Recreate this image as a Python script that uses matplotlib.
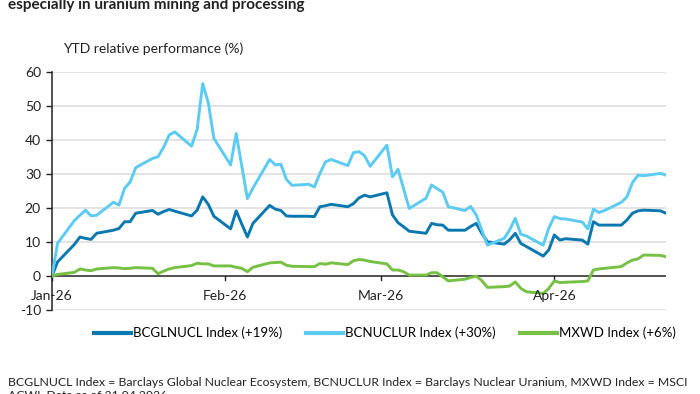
import numpy as np
import pandas as pd
import matplotlib
matplotlib.use("Agg")
import matplotlib.pyplot as plt

plt.rcParams["font.family"] = ["Lato", "DejaVu Sans"]

# ---- data (one value per business day) ----
dates = pd.bdate_range("2026-01-01", "2026-04-21")

bcglnucl = [
    # Jan
    0, 4.1, 9.2, 11.4, 11.0, 10.7, 12.5, 13.4, 13.9, 15.9, 15.9, 18.4, 19.2,
    18.1, 18.9, 19.5, 19.0, 17.6, 19.3, 23.2, 21.0, 17.5,
    # Feb
    13.8, 19.1, 15.2, 11.4, 15.4, 20.7, 19.6, 19.2, 17.6, 17.5, 17.5, 17.4,
    20.3, 20.6, 21.0, 20.3, 21.2, 22.9, 23.7, 23.2,
    # Mar
    24.4, 17.9, 15.6, 14.4, 13.1, 12.5, 15.4, 15.0, 14.9, 13.4, 13.4, 14.5,
    15.4, 12.5, 10.0, 9.3, 10.6, 12.5, 9.5, 8.6, 5.8, 7.6,
    # Apr
    12.0, 10.5, 10.9, 10.5, 9.3, 15.9, 14.9, 14.9, 14.9, 16.4, 18.4, 19.1,
    19.3, 19.1, 18.4,
]
bcnuclur = [
    0, 9.6, 16.2, 17.8, 19.3, 17.6, 17.8, 21.6, 20.8, 25.7, 27.6, 31.8, 34.5,
    35.0, 37.8, 41.4, 42.3, 38.1, 43.0, 56.5, 50.9, 40.4,
    32.6, 41.8, 32.3, 22.7, 25.8, 34.2, 32.6, 32.8, 28.3, 26.6, 26.9, 26.1,
    30.1, 33.5, 34.2, 32.4, 36.2, 36.5, 35.3, 32.2,
    38.4, 29.1, 31.3, 25.5, 19.8, 22.8, 26.7, 25.6, 24.6, 20.3, 19.2, 20.4,
    17.9, 13.4, 9.0, 11.0, 13.5, 16.9, 12.2, 11.7, 9.0, 14.0,
    17.4, 16.8, 16.7, 15.8, 13.8, 19.6, 18.6, 19.2, 21.6, 23.2, 27.4, 29.6,
    29.4, 30.1, 29.6,
]
mxwd = [
    0, 0.4, 1.0, 2.0, 1.7, 1.5, 2.0, 2.4, 2.3, 2.1, 2.2, 2.4, 2.2, 0.6, 1.4,
    2.0, 2.4, 3.0, 3.7, 3.5, 3.5, 2.9,
    2.9, 2.5, 2.2, 1.2, 2.5, 3.8, 3.9, 4.0, 3.1, 2.8, 2.7, 2.7, 3.6, 3.4,
    3.8, 3.3, 4.4, 4.8, 4.6, 4.2,
    3.5, 1.7, 1.7, 1.2, 0.2, 0.2, 0.9, 0.9, -0.3, -1.5, -1.0, -0.5, -0.1,
    -1.4, -3.4, -3.2, -3.0, -1.8, -3.7, -4.7, -5.2, -3.7,
    -1.5, -2.0, -1.9, -1.7, -1.5, 1.7, 2.0, 2.2, 2.7, 3.8, 4.6, 5.0, 6.1,
    6.0, 5.6,
]
series_names = ["BCGLNUCL Index (+19%)", "BCNUCLUR Index (+30%)",
                "MXWD Index (+6%)"]
colors = ["#0a78b0", "#5ccbf4", "#76c043"]
month_ticks = pd.to_datetime(["2026-01-01", "2026-02-01", "2026-03-01",
                              "2026-04-01"])
month_labels = ["Jan-26", "Feb-26", "Mar-26", "Apr-26"]
yticks = [-10, 0, 10, 20, 30, 40, 50, 60]
footnote = ["BCGLNUCL Index = Barclays Global Nuclear Ecosystem, BCNUCLUR "
            "Index = Barclays Nuclear Uranium, MXWD Index = MSCI",
            "ACWI. Data as of 21.04.2026"]

fig = plt.figure(figsize=(7, 3.94), dpi=100)
ax = fig.add_axes([0.0743, 0.2137, 0.8771, 0.6043])

for vals, name, c in zip([bcglnucl, bcnuclur, mxwd], series_names, colors):
    ax.plot(dates, vals, color=c, lw=2.1, label=name, zorder=3,
            solid_joinstyle="round")

ax.set_ylim(-10, 60)
ax.set_xlim(pd.Timestamp("2026-01-01"), pd.Timestamp("2026-04-21"))
ax.set_yticks(yticks)
ax.set_yticklabels([str(v) for v in yticks], fontsize=10, color="#222222")
for v in yticks:
    if v != 0:
        ax.axhline(v, color="#e3e3e3", lw=1.4, zorder=1)
ax.axhline(0, color="#222222", lw=1.1, zorder=2)

for s in ("top", "right", "bottom"):
    ax.spines[s].set_visible(False)
ax.spines["left"].set_color("#222222")
ax.spines["left"].set_linewidth(1.1)
ax.tick_params(axis="y", length=4, width=1.0, color="#222222", pad=4)

# month ticks hang from the zero line
ax.set_xticks([])
for d, lab in zip(month_ticks, month_labels):
    ax.plot([d, d], [0, -1.2], color="#222222", lw=1.0, zorder=2,
            clip_on=False)
    ax.text(d, -5.8, lab, ha="center", va="center", fontsize=10,
            color="#222222")

fig.text(8 / 700, 1 - 9.5 / 394,
         "especially in uranium mining and processing",
         fontsize=11, fontweight="bold", color="#222222", va="baseline")
fig.text(63 / 700, 1 - 49 / 394, "YTD relative performance (%)",
         fontsize=10, color="#222222", va="center")

fig.legend(loc="center", bbox_to_anchor=(385 / 700, 1 - 333 / 394), ncol=3,
           frameon=False, fontsize=9.5, handlelength=2.8, handletextpad=0.15,
           columnspacing=1.8, borderaxespad=0)
for h in fig.legends[0].get_lines():
    h.set_linewidth(3.0)

fig.text(8 / 700, 1 - 382 / 394, footnote[0], fontsize=8.8,
         color="#222222", va="center")
fig.text(8 / 700, 1 - 396 / 394, footnote[1], fontsize=8.8,
         color="#222222", va="center")

fig.savefig("out.png", dpi=100)
